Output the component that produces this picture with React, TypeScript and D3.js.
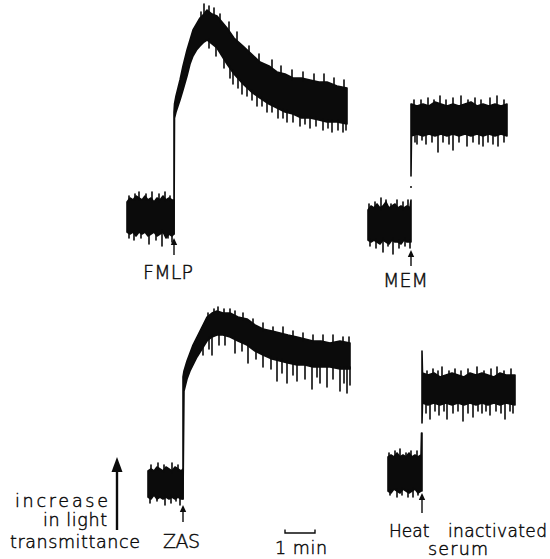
import React from 'react';
import * as d3 from 'd3';

// time in seconds relative to the addition (arrow), signal in arbitrary units above the resting baseline
// each row: [t, upper edge, lower edge] of the noisy recorder trace
const FMLP_PRE = [
  [-94, 7, -8], [-88, 9, -9], [-82, 8, -8], [-76, 10, -10], [-70, 9, -8], [-64, 8, -9],
  [-58, 10, -8], [-52, 8, -10], [-46, 9, -9], [-40, 7, -8], [-34, 9, -10], [-28, 8, -9],
  [-22, 10, -8], [-16, 8, -11], [-10, 9, -9], [-4, 8, -10], [0, 8, -9],
];
const FMLP_POST = [
  [0, 52, -9], [1, 56, 49], [4, 60, 52], [8, 64, 55], [12, 68, 58], [18, 75, 63], [26, 83, 70],
  [32, 88, 76], [38, 93, 80], [45, 96, 83], [52, 99, 85], [60, 101, 87], [66, 103, 88],
  [76, 101, 86], [86, 100, 84], [96, 97, 80], [106, 94, 76], [120, 89, 71], [138, 85, 66],
  [155, 81, 62], [172, 77, 59], [190, 75, 56], [206, 72, 54], [222, 71, 52], [238, 69, 51],
  [255, 69, 49], [272, 68, 49], [290, 67, 48], [306, 67, 47], [326, 65, 47], [346, 64, 46],
];
// tips of the pen excursions below / above the band: [t, value]
const FMLP_DOWN = [
  [-90, -11], [-80, -12], [-66, -11], [-50, -14], [-36, -12], [-24, -15], [-12, -11], [-4, -13],
  [70, 84], [84, 80], [100, 74], [112, 69], [118, 66], [128, 64], [136, 61], [146, 60],
  [156, 58], [166, 55], [176, 55], [186, 52], [196, 52], [208, 49], [218, 49], [226, 47],
  [238, 47], [252, 45], [262, 46], [272, 44], [284, 45], [298, 43], [308, 44], [316, 42],
  [328, 43], [338, 42], [344, 43],
];
const FMLP_UP = [
  [-90, 10], [-78, 11], [-70, 12], [-56, 11], [-44, 12], [-30, 11], [-18, 12], [-8, 10],
  [54, 102], [60, 106], [70, 105], [80, 104], [92, 101], [110, 97], [126, 92], [150, 85],
  [170, 81], [196, 78], [214, 75], [236, 73], [258, 72], [280, 71], [300, 71], [320, 69], [340, 68],
];

const MEM_PRE = [
  [-86, 7, -8], [-80, 9, -9], [-74, 8, -8], [-68, 10, -9], [-62, 8, -10], [-56, 9, -8],
  [-50, 11, -9], [-44, 8, -10], [-38, 9, -8], [-32, 10, -9], [-26, 8, -9], [-20, 9, -10],
  [-14, 8, -8], [-8, 9, -9], [-2, 8, -9], [0, 12, -9],
];
const MEM_POST = [
  [0, 60, 24], [1, 60, 44], [12, 59, 45], [24, 60, 44], [36, 59, 45], [48, 61, 44], [60, 60, 45],
  [72, 59, 44], [84, 60, 45], [96, 59, 44], [108, 60, 45], [120, 61, 44], [132, 59, 45],
  [144, 60, 44], [156, 59, 45], [168, 60, 44], [180, 59, 45], [192, 60, 44],
];
const MEM_DOWN = [
  [-82, -11], [-70, -12], [-56, -14], [-46, -11], [-36, -15], [-24, -12], [-12, -11], [-2, -12],
  [8, 41], [12, 40], [22, 42], [30, 40], [42, 41], [54, 36], [64, 41], [76, 40], [84, 37],
  [96, 41], [112, 39], [124, 41], [136, 40], [144, 39], [154, 41], [164, 40], [174, 39], [186, 41],
];
const MEM_UP = [
  [-84, 10], [-72, 11], [-60, 13], [-50, 12], [-40, 10], [-28, 12], [-16, 11], [-6, 12],
  [6, 62], [20, 62], [34, 63], [46, 62], [58, 64], [70, 62], [84, 63], [100, 64], [114, 62],
  [128, 63], [140, 62], [158, 63], [172, 64], [186, 62],
];
// isolated pen dots on the MEM step: [t, value]
const MEM_DOTS = [[0, 18.5]];

const ZAS_PRE = [
  [-70, 6, -7], [-64, 7, -8], [-58, 6, -6], [-52, 8, -8], [-46, 7, -7], [-40, 6, -8],
  [-34, 8, -7], [-28, 7, -8], [-22, 6, -7], [-16, 8, -8], [-10, 7, -7], [-4, 6, -8], [0, 7, -8],
];
const ZAS_POST = [
  [0, 53, -8], [2, 56, 46], [8, 61, 52], [14, 65, 56], [20, 69, 59], [28, 73, 63], [38, 78, 67],
  [48, 83, 71], [58, 85, 73], [68, 86, 74], [80, 85, 74], [94, 85, 73], [110, 83, 71],
  [128, 82, 69], [144, 79, 66], [160, 77, 64], [178, 76, 62], [194, 75, 61], [210, 74, 60],
  [228, 73, 59], [244, 72, 59], [260, 71, 58], [276, 71, 58], [294, 70, 58], [314, 71, 57],
  [334, 70, 57],
];
const ZAS_DOWN = [
  [-66, -10], [-52, -9], [-36, -11], [-24, -10], [-14, -9], [-6, -11],
  [40, 64], [52, 67], [58, 64], [72, 69], [84, 69], [104, 65], [118, 66], [130, 60], [146, 62],
  [160, 58], [176, 57], [188, 51], [198, 55], [208, 50], [220, 54], [228, 51], [244, 52],
  [258, 47], [268, 53], [274, 50], [288, 48], [300, 52], [314, 46], [322, 50], [328, 45], [334, 49],
];
const ZAS_UP = [
  [-64, 9], [-50, 10], [-38, 9], [-22, 10], [-10, 9],
  [50, 85], [62, 87], [70, 88], [82, 87], [94, 87], [104, 86], [120, 85], [140, 82], [160, 80],
  [180, 78], [200, 78], [220, 76], [240, 75], [260, 74], [280, 74], [300, 74], [320, 73], [332, 73],
];

const SERUM_PRE = [
  [-68, 8, -9], [-62, 9, -10], [-56, 8, -8], [-50, 10, -9], [-44, 8, -10], [-38, 9, -8],
  [-32, 8, -9], [-26, 10, -10], [-20, 8, -9], [-14, 9, -8], [-8, 8, -10], [-2, 9, -9],
  [-1, 20, -9], [0, 20, -9],
];
const SERUM_POST = [
  [0, 61, 25], [1, 50, 35], [12, 49, 34], [24, 50, 35], [36, 48, 34], [48, 49, 35], [60, 50, 34],
  [72, 49, 35], [84, 48, 34], [96, 50, 35], [108, 49, 34], [120, 50, 35], [132, 49, 34],
  [144, 48, 35], [156, 50, 34], [168, 49, 35], [186, 49, 34],
];
const SERUM_DOWN = [
  [-64, -11], [-50, -12], [-40, -11], [-28, -12], [-18, -12], [-8, -11],
  [8, 30], [16, 27], [26, 31], [34, 29], [44, 31], [50, 27], [62, 30], [72, 31], [82, 26],
  [92, 30], [102, 28], [112, 31], [120, 30], [128, 31], [136, 29], [148, 31], [158, 30],
  [166, 27], [176, 31], [182, 30],
];
const SERUM_UP = [
  [-66, 10], [-54, 11], [-44, 12], [-32, 10], [-22, 11], [-10, 11],
  [10, 51], [22, 52], [32, 51], [40, 53], [54, 51], [66, 52], [78, 51], [92, 52], [110, 53],
  [124, 51], [138, 52], [150, 53], [164, 51], [178, 52],
];

const TRACES = [
  { key: 'fmlp', arrowX: 174, baseY: 216, pre: FMLP_PRE, post: FMLP_POST, down: FMLP_DOWN, up: FMLP_UP, dots: [], tip: 238, tail: 255 },
  { key: 'mem', arrowX: 411, baseY: 224, pre: MEM_PRE, post: MEM_POST, down: MEM_DOWN, up: MEM_UP, dots: MEM_DOTS, tip: 250, tail: 266 },
  { key: 'zas', arrowX: 183, baseY: 483, pre: ZAS_PRE, post: ZAS_POST, down: ZAS_DOWN, up: ZAS_UP, dots: [], tip: 505, tail: 522 },
  { key: 'serum', arrowX: 422, baseY: 473, pre: SERUM_PRE, post: SERUM_POST, down: SERUM_DOWN, up: SERUM_UP, dots: [], tip: 493, tail: 513 },
];

const LABELS = [
  { text: 'FMLP', x: 143, y: 279, len: 50, size: 19 },
  { text: 'MEM', x: 383, y: 287, len: 45, size: 19 },
  { text: 'ZAS', x: 163, y: 548, len: 37, size: 19 },
  { text: 'increase', x: 15, y: 507, len: 93, size: 17.5 },
  { text: 'in light', x: 43, y: 526, len: 64, size: 17.5 },
  { text: 'transmittance', x: 10, y: 548, len: 130, size: 17.5 },
  { text: 'Heat', x: 389, y: 537, len: null, size: 17 },
  { text: 'inactivated', x: 448, y: 537, len: 99, size: 17 },
  { text: 'serum', x: 428, y: 555, len: 60, size: 17.5 },
  { text: '1 min', x: 275, y: 554, len: 52, size: 17.5 },
];

const SCALE_BAR_SEC = 60;

const xScale = d3.scaleLinear().domain([0, 60]).range([0, 30]);
const yScale = d3.scaleLinear().domain([0, 100]).range([0, -200]);

const INK = '#0b0b0b';

// band edge (col 1 = upper, 2 = lower) at time t
const edgeAt = (rows, t, col) => {
  const i = d3.bisector((r) => r[0]).left(rows, t);
  if (i <= 0) return rows[0][col];
  if (i >= rows.length) return rows[rows.length - 1][col];
  const a = rows[i - 1];
  const b = rows[i];
  const f = (t - a[0]) / (b[0] - a[0] || 1);
  return a[col] + (b[col] - a[col]) * f;
};

const Trace = ({ tr }) => {
  const area = d3
    .area()
    .x((d) => tr.arrowX + xScale(d[0]))
    .y0((d) => tr.baseY + yScale(d[2]))
    .y1((d) => tr.baseY + yScale(d[1]));
  const X = (t) => tr.arrowX + xScale(t);
  const Y = (v) => tr.baseY + yScale(v);
  const segOf = (t) => (t < 0 ? tr.pre : tr.post);
  return (
    <g>
      {[tr.pre, tr.post].map((seg, i) => (
        <path key={i} d={area(seg)} fill={INK} stroke={INK} strokeWidth={1.6} strokeLinejoin="round" />
      ))}
      {tr.down.map(([t, v], i) => (
        <line
          key={`d${i}`}
          x1={X(t)}
          x2={X(t)}
          y1={Y(v)}
          y2={Y(edgeAt(segOf(t), t, 2) + 1)}
          stroke={INK}
          strokeWidth={1.6}
          strokeLinecap="round"
        />
      ))}
      {tr.up.map(([t, v], i) => (
        <line
          key={`u${i}`}
          x1={X(t)}
          x2={X(t)}
          y1={Y(v)}
          y2={Y(edgeAt(segOf(t), t, 1) - 1)}
          stroke={INK}
          strokeWidth={1.6}
          strokeLinecap="round"
        />
      ))}
      {tr.dots.map(([t, v], i) => (
        <circle key={`p${i}`} cx={X(t)} cy={Y(v)} r={1} fill={INK} />
      ))}
      <line x1={tr.arrowX} x2={tr.arrowX} y1={tr.tip + 4} y2={tr.tail} stroke={INK} strokeWidth={1.4} />
      <path d={`M${tr.arrowX},${tr.tip}L${tr.arrowX - 3.2},${tr.tip + 7}L${tr.arrowX + 3.2},${tr.tip + 7}Z`} fill={INK} />
    </g>
  );
};

export default function App() {
  const barX = 285;
  const barW = xScale(SCALE_BAR_SEC);
  return (
    <svg
      width={550}
      height={559}
      style={{ position: 'absolute', left: 0, top: 0, background: '#fff' }}
    >
      <rect width={550} height={559} fill="#fff" />
      {TRACES.map((tr) => (
        <Trace key={tr.key} tr={tr} />
      ))}
      {/* increase in light transmittance arrow */}
      <line x1={117} x2={117} y1={468} y2={530} stroke={INK} strokeWidth={2.4} />
      <path d="M117,457L111.5,472L122.5,472Z" fill={INK} />
      {/* 1 min scale bar */}
      <path
        d={`M${barX},529.5V533H${barX + barW}V529.5`}
        fill="none"
        stroke={INK}
        strokeWidth={1.4}
      />
      {LABELS.map((l) => (
        <text
          key={l.text}
          x={l.x}
          y={l.y}
          textLength={l.len ?? undefined}
          lengthAdjust={l.len ? 'spacing' : undefined}
          fontFamily="'DejaVu Sans', sans-serif"
          fontWeight={200}
          fontSize={l.size}
          fill={INK}
          stroke={INK}
          strokeWidth={0.45}
        >
          {l.text}
        </text>
      ))}
    </svg>
  );
}
